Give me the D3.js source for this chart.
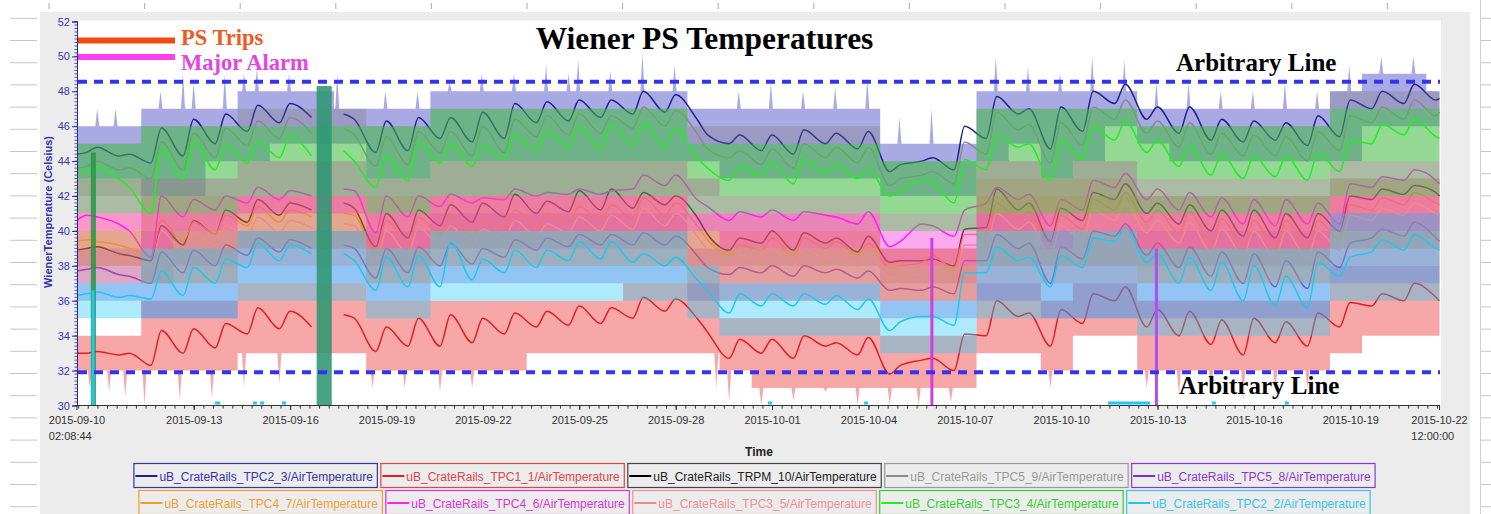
<!DOCTYPE html>
<html>
<head>
<meta charset="utf-8">
<script src="https://cdn.jsdelivr.net/npm/d3@7"></script>
<style>
body{margin:0;background:#fff;overflow:hidden}
svg{display:block}
</style>
</head>
<body>
<div id="chart"></div>
<script>
const w = 1491;
const h = 514;

// ---- data ----
const startTime = "2015-09-10T02:08:44Z";
const endTime = "2015-10-22T12:00:00Z";

// sample instants, in days after startTime (daily low, then daily high)
const sampleDays = [0,
 0.3,0.63, 1.3,1.63, 2.3,2.63, 3.3,3.63, 4.3,4.63, 5.3,5.63, 6.3,6.63, 7.3,7.63, 8.3,8.63, 9.3,9.63,
 10.3,10.63, 11.3,11.63, 12.3,12.63, 13.3,13.63, 14.3,14.63, 15.3,15.63, 16.3,16.63, 17.3,17.63, 18.3,18.63, 19.3,19.63,
 20.3,20.63, 21.3,21.63, 22.3,22.63, 23.3,23.63, 24.3,24.63, 25.3,25.63, 26.3,26.63, 27.3,27.63, 28.3,28.63, 29.3,29.63,
 30.3,30.63, 31.3,31.63, 32.3,32.63, 33.3,33.63, 34.3,34.63, 35.3,35.63, 36.3,36.63, 37.3,37.63, 38.3,38.63, 39.3,39.63,
 40.3,40.63, 41.3,41.63,
 42.3, 42.41];

const tpc2_3 = [44.4,
 44.5,44.8, 44.3,44.4, 43.9,45.9, 44.3,46.4, 45.0,46.7, 45.7,47.2, 46.2,47.3, 46.5,null, 46.7,46.4, 44.5,46.3,
 44.6,46.5, 45.3,46.5, 45.1,46.8, 45.3,47.3, 46.2,47.4, 46.3,47.5, 46.5,47.5, 46.7,48.0, 46.8,47.8, 46.4,45.5,
 45.0,45.5, 44.6,45.5, 44.4,45.8, 45.0,45.6, 44.7,45.7, 43.4,43.8, 44.0,44.2, 43.5,46.0, 45.3,47.7, 46.7,47.0,
 44.7,47.1, 45.7,48.0, 47.3,48.4, 46.4,47.1, 45.6,47.1, 45.2,46.4, 45.1,46.3, 45.2,46.2, 44.9,46.6, 45.4,47.5,
 47.0,48.0, 47.3,48.4,
 47.5, 47.6];
const tpc1_1 = [33.0,
 33.0,33.1, 32.9,33.0, 32.3,34.3, 33.0,34.4, 33.3,34.7, 34.1,35.6, 34.4,35.4, 34.5,null, 35.2,35.0, 33.1,34.5,
 33.4,35.0, 33.4,35.2, 33.6,35.0, 34.1,35.3, 34.5,35.4, 34.6,35.7, 34.7,35.6, 35.0,36.2, 35.4,36.1, 35.0,34.2,
 32.7,33.8, 33.0,33.8, 32.7,34.0, 33.4,33.6, 32.9,33.9, 31.8,32.3, 32.6,32.7, 32.0,34.1, 34.0,36.0, 35.1,35.3,
 33.4,35.5, 34.7,36.4, 36.0,36.8, 34.5,35.5, 34.0,35.4, 33.5,34.9, 32.9,35.0, 33.6,34.8, 33.4,35.3, 34.5,35.9,
 35.7,36.4, 36.0,37.0,
 36.2, 36.0];
const trpm_10 = [38.9,
 39.0,39.1, 38.7,38.6, 38.3,40.3, 39.2,40.6, 39.8,41.2, 40.5,41.8, 40.9,41.6, 41.2,null, 41.6,41.3, 39.1,41.0,
 39.6,41.2, 40.3,41.5, 40.5,41.6, 40.8,42.1, 41.0,41.7, 41.1,42.3, 41.2,42.4, 41.3,42.2, 41.5,42.0, 40.8,39.8,
 38.9,39.6, 39.3,40.0, 38.9,39.9, 39.3,39.6, 38.8,39.7, 38.2,38.3, 38.3,38.4, 38.0,40.1, 40.2,42.4, 41.2,41.6,
 39.4,41.3, 40.6,42.2, 41.8,42.7, 41.0,41.6, 40.4,41.5, 40.0,41.2, 39.7,41.2, 39.6,41.0, 39.6,41.0, 40.0,42.0,
 41.8,42.4, 42.1,42.6,
 42.2, 42.0];
const tpc5_9 = [43.6,
 43.7,44.0, 43.5,43.6, 43.0,45.1, 43.5,45.6, 44.2,45.9, 44.9,46.3, 45.3,46.5, 45.6,null, 45.9,45.5, 43.7,45.4,
 43.8,45.7, 44.5,45.7, 44.3,46.0, 44.5,46.4, 45.4,46.6, 45.5,46.7, 45.6,46.6, 45.9,47.1, 46.0,46.9, 45.6,44.7,
 44.2,44.6, 43.8,44.7, 43.6,45.0, 44.2,44.8, 43.9,44.8, 42.6,43.0, 43.2,43.4, 42.7,45.1, 44.4,46.8, 45.8,46.1,
 43.9,46.2, 44.9,47.1, 46.4,47.5, 45.6,46.3, 44.8,46.2, 44.4,45.6, 44.3,45.5, 44.3,45.4, 44.0,45.7, 44.6,46.6,
 46.2,47.1, 46.4,47.5,
 46.6, 46.8];
const tpc5_8 = [37.7,
 37.8,37.9, 37.5,37.4, 37.0,38.8, 37.6,38.9, 38.0,39.2, 38.6,39.6, 38.8,39.5, 39.0,null, 39.2,39.0, 37.3,39.0,
 37.6,39.1, 38.0,39.3, 38.1,39.0, 38.5,39.5, 38.9,39.6, 39.1,39.8, 39.2,39.8, 39.2,39.9, 39.2,39.7, 38.6,37.9,
 37.5,37.9, 37.6,38.0, 37.4,38.0, 37.6,37.8, 37.3,37.7, 36.6,36.7, 36.6,36.8, 36.4,38.3, 38.3,39.8, 39.0,39.3,
 37.0,39.1, 38.4,40.0, 39.7,40.4, 38.6,39.3, 37.9,39.1, 37.4,38.8, 37.0,38.7, 36.8,38.3, 36.7,38.8, 37.9,39.3,
 39.6,40.1, 39.7,40.5,
 39.6, 39.4];
const tpc4_7 = [39.4,
 39.5,39.4, 39.2,39.0, 38.6,40.6, 39.4,40.5, 39.8,40.9, 40.3,41.4, 40.5,41.2, 40.8,null, 41.0,40.9, 38.8,40.6,
 39.3,40.8, 39.8,40.9, 39.7,40.7, 40.1,41.2, 40.3,41.0, 40.5,41.4, 40.6,41.5, 40.7,41.9, 40.9,41.6, 40.3,39.5,
 38.6,39.2, 38.9,39.6, 38.6,39.6, 39.0,39.4, 38.6,39.3, 37.9,38.0, 38.2,38.6, 37.8,39.8, 39.8,41.6, 40.7,41.1,
 39.2,40.9, 40.1,41.8, 41.2,42.2, 40.5,41.2, 39.9,41.1, 39.4,40.7, 39.2,40.6, 39.0,40.6, 39.0,40.6, 39.5,41.5,
 41.2,41.9, 41.5,42.2,
 41.6, 41.5];
const tpc4_6 = [40.6,
 40.9,40.8, 40.4,40.0, 38.5,42.0, 40.8,41.8, 41.2,42.0, 41.6,42.5, 41.8,42.3, 42.0,null, 42.4,42.3, 39.9,42.0,
 40.8,42.0, 41.4,42.1, 41.6,41.9, 41.8,42.4, 42.0,42.2, 42.1,42.4, 42.1,42.3, 42.4,43.2, 42.6,43.2, 41.8,41.4,
 40.6,41.1, 40.8,41.2, 40.6,41.1, 40.9,40.8, 40.4,41.1, 39.1,39.4, 40.4,40.3, 39.7,41.2, 41.6,42.5, 41.8,42.1,
 40.3,41.8, 41.2,42.9, 42.5,43.3, 41.8,42.4, 41.2,42.2, 40.8,41.9, 40.4,41.8, 40.3,41.8, 40.4,41.6, 40.4,42.7,
 42.5,43.1, 42.9,43.5,
 42.9, 42.7];
const tpc3_5 = [38.8,
 38.9,38.9, 38.6,38.4, 38.0,40.0, 38.8,39.9, 39.2,40.3, 39.7,40.8, 39.9,40.6, 40.2,null, 40.4,40.3, 38.2,40.0,
 38.7,40.2, 39.2,40.3, 39.1,40.1, 39.5,40.6, 39.7,40.4, 39.9,40.8, 40.0,40.9, 40.1,41.3, 40.3,41.0, 39.7,38.9,
 38.0,38.6, 38.3,39.0, 38.0,39.0, 38.4,38.8, 38.0,38.7, 37.3,37.4, 37.6,38.0, 37.2,39.2, 39.2,41.0, 40.1,40.5,
 38.6,40.3, 39.5,41.2, 40.6,41.6, 39.9,40.6, 39.3,40.5, 38.8,40.1, 38.6,40.0, 38.4,40.0, 38.4,40.0, 38.9,40.9,
 40.6,41.3, 40.9,41.6,
 41.0, 40.9];
const tpc3_4 = [43.3,
 43.4,43.6, 43.0,42.5, 41.0,44.7, 43.0,45.1, 43.5,44.9, 43.9,45.1, 44.2,45.4, 44.3,null, 44.6,44.0, 42.5,44.3,
 42.9,45.1, 43.9,45.0, 43.7,44.9, 44.1,45.5, 44.6,45.7, 44.8,46.0, 44.7,46.1, 44.9,46.2, 44.8,45.9, 44.2,43.6,
 42.9,43.7, 43.2,43.9, 42.7,44.1, 43.3,43.8, 43.0,43.5, 42.0,42.3, 42.9,42.8, 41.6,44.1, 43.5,45.5, 44.8,45.0,
 42.9,45.2, 44.1,46.0, 45.2,46.3, 44.5,45.2, 43.7,44.9, 43.2,44.4, 43.0,44.3, 43.1,44.3, 42.9,44.5, 43.4,45.2,
 45.0,46.1, 45.5,46.4,
 45.4, 45.3];
const tpc2_2 = [36.3,
 36.4,36.5, 36.2,36.3, 36.1,37.7, 36.3,37.9, 37.0,38.4, 37.9,39.3, 38.3,39.2, 38.7,null, 38.7,38.3, 36.6,38.5,
 36.8,38.6, 36.8,39.4, 37.2,38.4, 37.6,38.9, 37.9,38.9, 38.3,39.4, 38.4,39.4, 38.2,38.7, 38.0,38.5, 37.2,36.6,
 35.3,36.4, 35.7,36.4, 35.7,36.4, 35.8,36.3, 35.5,36.1, 34.3,34.8, 35.1,35.1, 34.6,37.6, 37.6,39.1, 38.3,38.5,
 36.8,38.6, 37.9,39.6, 39.4,40.2, 38.2,38.7, 37.0,38.5, 36.6,38.2, 36.0,38.0, 35.7,37.4, 35.6,38.2, 37.4,38.5,
 38.8,39.5, 38.9,39.8,
 39.0, 38.9];

// min/max envelopes: [from day, min, max]
const tpc2_3Band = [[0,43,46],[2,42,47],[4,44,47],[5,44,48],[6,45,48],[8,45,47],[9,43,47],[11,44,48],[19,44,47],[20,43,47],[25,42,45],[28,44,48],[29,45,48],[30,43,48],[31,44,48],[32,46,48],[33,45,47],[34,44,47],[39,44,48],[40,46,49],[42,46,48]];
const tpc1_1Band = [[0,32,34],[2,32,36],[5,33,37],[9,32,36],[14,33,36],[17,33,37],[20,32,35],[21,31,35],[25,31,34],[28,33,37],[30,32,36],[31,34,37],[33,32,36],[39,33,38],[40,34,38]];
const trpm_10Band = [[0,38,40],[2,37,42],[3,38,42],[5,39,43],[9,38,42],[11,39,43],[19,38,41],[25,37,39],[28,38,43],[33,38,42],[39,39,43]];
const tpc5_9Band = [[0,42,45],[2,42,46],[5,43,47],[9,42,46],[11,43,47],[19,42,46],[25,41,44],[28,43,47],[33,43,46],[39,44,48]];
const tpc5_8Band = [[0,36,39],[2,35,40],[5,37,40],[9,36,40],[11,37,41],[19,36,39],[25,35,38],[28,36,41],[30,35,40],[33,35,40],[39,37,41]];
const tpc4_7Band = [[0,38,41],[2,37,42],[5,39,42],[9,37,42],[11,38,42],[19,37,41],[25,36,39],[28,38,43],[33,37,42],[39,39,43]];
const tpc4_6Band = [[0,40,43],[2,39,43],[3,40,43],[5,41,44],[9,39,43],[11,40,44],[19,40,43],[20,39,42],[25,38,41],[28,40,44],[30,39,43],[31,40,44],[33,39,43],[39,40,44]];
const tpc3_5Band = [[0,37,40],[2,37,41],[5,38,42],[9,37,41],[11,38,42],[19,36,40],[25,36,39],[28,37,42],[33,37,41],[39,38,42]];
const tpc3_4Band = [[0,41,45],[2,41,46],[5,42,46],[9,41,46],[11,42,47],[19,41,45],[25,40,44],[28,41,47],[33,41,46],[39,42,47]];
const tpc2_2Band = [[0,35,37],[2,35,39],[5,36,40],[9,35,39],[11,36,40],[19,35,38],[20,34,37],[25,33,36],[28,35,40],[33,34,39],[39,36,41]];

// short excursions of the envelopes: [day, extreme value]
const tpc2_3Spikes = [[0.63,47],[1.2,47],[2.6,48],[3.3,49],[3.63,48.5],[4.6,49],[5.2,49],[5.6,49.3],[6.6,49],[8.1,49],[9.6,48],[10.6,48],[11.6,48.5],[12.6,49],[13.6,49],[14.6,49.5],[15.3,49],[15.6,49.8],[16.6,49.2],[17.6,50.2],[18.6,49.5],[20.6,48],[21.6,48.5],[22.6,48],[23.6,48.2],[24.6,48.7],[25.6,46.5],[26.6,47],[28.6,50],[29.6,49.4],[30.6,49],[31.6,50],[32.6,49.8],[33.6,48.5],[34.6,48.5],[35.6,48],[36.6,48],[37.6,48.5],[38.6,48],[39.6,49.5],[40.6,50],[41.6,50]];
const tpc1_1Spikes = [[0.4,31],[1.0,30.8],[1.5,30.5],[2.1,30],[3.2,30.3],[4.2,30.4],[5.2,31],[6.3,31.2],[9.2,31],[10.2,31],[11.3,30.8],[12.3,31],[19.9,31],[20.3,30.2],[21.3,30],[22.3,30.3],[23.3,30.8],[24.3,30],[25.3,30],[26.2,30],[27.2,30.2],[30.3,31],[33.3,31],[34.3,30.6],[35.3,30.5],[36.3,30.2],[37.3,30.8],[38.3,31]];

const seriesNames = ["uB_CrateRails_TPC2_3/AirTemperature","uB_CrateRails_TPC1_1/AirTemperature","uB_CrateRails_TRPM_10/AirTemperature",
 "uB_CrateRails_TPC5_9/AirTemperature","uB_CrateRails_TPC5_8/AirTemperature","uB_CrateRails_TPC4_7/AirTemperature",
 "uB_CrateRails_TPC4_6/AirTemperature","uB_CrateRails_TPC3_5/AirTemperature","uB_CrateRails_TPC3_4/AirTemperature",
 "uB_CrateRails_TPC2_2/AirTemperature"];
const seriesValues = [tpc2_3, tpc1_1, trpm_10, tpc5_9, tpc5_8, tpc4_7, tpc4_6, tpc3_5, tpc3_4, tpc2_2];
const seriesBands = [tpc2_3Band, tpc1_1Band, trpm_10Band, tpc5_9Band, tpc5_8Band, tpc4_7Band, tpc4_6Band, tpc3_5Band, tpc3_4Band, tpc2_2Band];
const seriesSpikes = [tpc2_3Spikes, tpc1_1Spikes, [], [], [], [], [], [], [], []];

// readings that fell off the scale / dropouts
const glitchBlocks = [[0.43,0.59,30,44.5],[7.46,7.93,30,48.3]];
const alarmLines = [[0.5,30,36.6],[26.61,30,39.6],[33.6,30,39.0]];
const cyanDips = [[4.30,4.45],[5.48,5.60],[5.70,5.82],[6.38,6.51],[21.51,21.63],[24.50,24.62],[32.09,33.40],[35.33,35.45],[37.60,37.72]];

const limitLines = [48.55, 31.9];
const yTicks = [30,32,34,36,38,40,42,44,46,48,50,52];
const xTickLabels = ["2015-09-13","2015-09-16","2015-09-19","2015-09-22","2015-09-25","2015-09-28","2015-10-01","2015-10-04","2015-10-07","2015-10-10","2015-10-13","2015-10-16","2015-10-19"];
const xStartLabel = ["2015-09-10","02:08:44"];
const xEndLabel = ["2015-10-22","12:00:00"];

// ---- styles ----
const lineColors = ["#1e1e8c","#e02020","#000000","#8a8a8a","#7b2fd0","#f0a020","#ff20f0","#f08a8a","#20f020","#20c8f0"];
const bandColors = ["rgba(50,50,190,0.42)","rgba(235,45,45,0.42)","rgba(30,30,30,0.18)","rgba(120,120,120,0.3)","rgba(120,60,220,0.3)",
 "rgba(245,150,40,0.3)","rgba(250,50,220,0.42)","rgba(240,110,110,0.34)","rgba(40,220,40,0.38)","rgba(40,200,245,0.38)"];
const legendColors = ["#3535a8","#e04545","#222222","#999999","#8a3ad0","#f0a030","#d835d8","#f09090","#30d030","#35c5ea"];
const sans = "'Liberation Sans', Arial, sans-serif";
const serif = "'Liberation Serif', 'Times New Roman', serif";

//Create svg element
const svg = d3.select("#chart").append('svg')
 .attr('width', w).attr('height', h);

// page frame: ruler marks and grey panel
const rulerY = d3.range(18.3, h, 22.2);
svg.append('g').selectAll('line').data(rulerY).join('line')
 .attr('x1', 10).attr('x2', 37).attr('y1', d => d).attr('y2', d => d)
 .attr('stroke', '#c6c6c6');
svg.append('g').selectAll('line').data(rulerY).join('line')
 .attr('x1', 1481).attr('x2', 1491).attr('y1', d => d).attr('y2', d => d)
 .attr('stroke', '#c6c6c6');
svg.append('line').attr('x1', 1480.5).attr('x2', 1480.5).attr('y1', 0).attr('y2', h).attr('stroke', '#cfcfcf');
svg.append('g').selectAll('line').data(d3.range(49, 1470, 95.6)).join('line')
 .attr('x1', d => d).attr('x2', d => d).attr('y1', 3).attr('y2', 9)
 .attr('stroke', '#aaa');
svg.append('rect').attr('x', 40).attr('y', 12).attr('width', 1430).attr('height', h - 12).attr('fill', '#ececec');

//Scales
const t0 = d3.isoParse(startTime);
const t1 = d3.isoParse(endTime);
const dayMs = 864e5;
const toDate = d => new Date(+t0 + d * dayMs);
const xScale = d3.scaleUtc().domain([t0, t1]).range([77, 1439.5]);
const yScale = d3.scaleLinear().domain([30, 52]).range([405.5, 21.5]);
const xd = d => xScale(toDate(d));

// plot background
svg.append('rect').attr('x', 77).attr('y', 20.5).attr('width', 1364).attr('height', 385).attr('fill', '#fff');
svg.append('clipPath').attr('id', 'clip').append('rect')
 .attr('x', 77).attr('y', 20.5).attr('width', 1363).attr('height', 385);
const plot = svg.append('g').attr('clip-path', 'url(#clip)');

// bands + lines, in legend order
const area = d3.area().curve(d3.curveStepAfter)
 .x(d => xd(d[0])).y0(d => yScale(d[1])).y1(d => yScale(d[2]));
const line = d3.line()
 .defined(d => d[1] != null)
 .curve(d3.curveMonotoneX)
 .x(d => xd(d[0])).y(d => yScale(d[1]));
const lastDay = sampleDays[sampleDays.length - 1];

// value of the envelope edge nearest to a spike
function bandEdge(band, day, v) {
 let seg = band[0];
 band.forEach(s => { if (s[0] <= day) seg = s; });
 return v > seg[2] ? seg[2] : seg[1];
}

seriesValues.forEach((vals, i) => {
 const band = seriesBands[i];
 const last = band[band.length - 1];
 plot.append('path')
  .datum(band.concat([[lastDay, last[1], last[2]]]))
  .attr('d', area)
  .attr('fill', bandColors[i]);
 plot.append('g').selectAll('path').data(seriesSpikes[i]).join('path')
  .attr('d', d => {
   const base = yScale(bandEdge(band, d[0], d[1]));
   const cx = xd(d[0]);
   return `M${cx - 2},${base}L${cx},${yScale(d[1])}L${cx + 2},${base}Z`;
  })
  .attr('fill', bandColors[i]);
 plot.append('path')
  .datum(vals.map((v, k) => [sampleDays[k], v]))
  .attr('d', line)
  .attr('fill', 'none')
  .attr('stroke', lineColors[i])
  .attr('stroke-width', 1.5)
  .attr('stroke-linejoin', 'round');
});

// dropouts
plot.append('g').selectAll('rect').data(glitchBlocks).join('rect')
 .attr('x', d => xd(d[0])).attr('width', d => xd(d[1]) - xd(d[0]))
 .attr('y', d => yScale(d[3])).attr('height', d => yScale(d[2]) - yScale(d[3]))
 .attr('fill', (d, i) => i == 0 ? 'rgba(40,150,70,0.85)' : 'rgba(45,150,115,0.88)');
const alarmCol = ["#20c8f0", "#d040d8", "#b050f0"];
plot.append('g').selectAll('line').data(alarmLines).join('line')
 .attr('x1', d => xd(d[0])).attr('x2', d => xd(d[0]))
 .attr('y1', d => yScale(d[1])).attr('y2', d => yScale(d[2]))
 .attr('stroke', (d, i) => alarmCol[i]).attr('stroke-width', 3);
plot.append('g').selectAll('line').data(cyanDips).join('line')
 .attr('x1', d => xd(d[0])).attr('x2', d => xd(d[1]))
 .attr('y1', yScale(30.15)).attr('y2', yScale(30.15))
 .attr('stroke', '#20c8f0').attr('stroke-width', 3);

// arbitrary limit lines
svg.append('g').selectAll('line').data(limitLines).join('line')
 .attr('x1', 78).attr('x2', 1440)
 .attr('y1', d => yScale(d)).attr('y2', d => yScale(d))
 .attr('stroke', '#3434ee').attr('stroke-width', 4).attr('stroke-dasharray', '9,7');

// y axis
const yAxis = d3.axisLeft(yScale).tickValues(yTicks).tickSize(5).tickPadding(2);
const gy = svg.append('g').attr('transform', 'translate(77,0)').call(yAxis);
gy.select('.domain').attr('stroke', '#2a2a9a');
gy.selectAll('.tick line').attr('stroke', '#2a2a9a');
gy.selectAll('.tick text').attr('fill', '#3838b0').style('font', `11px ${sans}`);
svg.append('g').selectAll('line').data(d3.range(30, 52.01, 0.2)).join('line')
 .attr('x1', 74.5).attr('x2', 78).attr('y1', d => yScale(d)).attr('y2', d => yScale(d))
 .attr('stroke', '#2a2a9a').attr('stroke-width', 0.8);
svg.append('text')
 .attr('transform', `translate(52,212) rotate(-90)`)
 .attr('text-anchor', 'middle')
 .attr('fill', '#3333aa')
 .style('font', `bold 11px ${sans}`)
 .text('WienerTemperature (Celsius)');

// x axis
const tickHour = 17.74;
const majorDates = xTickLabels.map(s => new Date(+d3.isoParse(s + "T00:00:00Z") + tickHour * 36e5));
const minorDates = [];
for (let t = +majorDates[0]; t >= +t0; t -= 0.3 * dayMs) minorDates.push(new Date(t));
for (let t = +majorDates[0]; t <= +t1; t += 0.3 * dayMs) minorDates.push(new Date(t));
svg.append('line').attr('x1', 77).attr('x2', 1440).attr('y1', 405.5).attr('y2', 405.5).attr('stroke', '#333');
svg.append('g').selectAll('line').data(minorDates).join('line')
 .attr('x1', d => xScale(d)).attr('x2', d => xScale(d)).attr('y1', 405.5).attr('y2', 408.5)
 .attr('stroke', '#333');
svg.append('g').selectAll('line').data(majorDates.concat([t0, t1])).join('line')
 .attr('x1', d => xScale(d)).attr('x2', d => xScale(d)).attr('y1', 405.5).attr('y2', 410)
 .attr('stroke', '#333');
svg.append('g').selectAll('text').data(majorDates).join('text')
 .attr('x', d => xScale(d)).attr('y', 423.5)
 .attr('text-anchor', 'middle').attr('fill', '#333')
 .style('font', `11px ${sans}`)
 .text((d, i) => xTickLabels[i]);
[[t0, xStartLabel], [t1, xEndLabel]].forEach(([t, lab]) => {
 const first = svg.append('text').attr('x', xScale(t)).attr('y', 423.5)
  .attr('text-anchor', 'middle').attr('fill', '#333')
  .style('font', `11px ${sans}`).text(lab[0]);
 const bx = first.node().getBBox().x;
 svg.append('text').attr('x', bx).attr('y', 439.5).attr('fill', '#333')
  .style('font', `11px ${sans}`).text(lab[1]);
});
svg.append('text').attr('x', 759).attr('y', 455.5).attr('text-anchor', 'middle')
 .attr('fill', '#222').style('font', `bold 12px ${sans}`).text('Time');

// annotations
svg.append('text').attr('x', 704.5).attr('y', 48.5).attr('text-anchor', 'middle')
 .attr('fill', '#000').style('font', `bold 31.5px ${serif}`).text('Wiener PS Temperatures');
svg.append('rect').attr('x', 78).attr('y', 37.5).attr('width', 97).attr('height', 6).attr('fill', '#f04a10');
svg.append('rect').attr('x', 78).attr('y', 54).attr('width', 97).attr('height', 6).attr('fill', '#ff40f0');
svg.append('text').attr('x', 181).attr('y', 45).attr('fill', '#ef5a1e')
 .style('font', `bold 22.5px ${serif}`).text('PS Trips');
svg.append('text').attr('x', 181).attr('y', 70).attr('fill', '#e544e0')
 .style('font', `bold 22.5px ${serif}`).text('Major Alarm');
svg.append('text').attr('x', 1176).attr('y', 71).attr('fill', '#000')
 .style('font', `bold 25px ${serif}`).text('Arbitrary Line');
svg.append('text').attr('x', 1179).attr('y', 393.5).attr('fill', '#000')
 .style('font', `bold 25px ${serif}`).text('Arbitrary Line');

// legend: two rows of five boxes, centred
const legendRows = [[0, 1, 2, 3, 4], [5, 6, 7, 8, 9]];
const rowTop = [463, 490];
legendRows.forEach((row, r) => {
 const g = svg.append('g');
 const items = row.map(i => {
  const ig = g.append('g');
  const t = ig.append('text').attr('x', 26).attr('y', 17.5)
   .attr('fill', legendColors[i]).style('font', `12px ${sans}`).text(seriesNames[i]);
  const tw = t.node().getComputedTextLength();
  return {ig, i, bw: 26 + tw + 5};
 });
 const gap = 2.5;
 const total = d3.sum(items, d => d.bw) + gap * (items.length - 1);
 let xPos = 754.5 - total / 2;
 items.forEach(it => {
  it.ig.attr('transform', `translate(${xPos},${rowTop[r]})`);
  it.ig.insert('rect', 'text').attr('x', 0.5).attr('y', 0.5).attr('width', it.bw - 1).attr('height', 24)
   .attr('fill', 'none').attr('stroke', lineColors[it.i] == '#000000' ? '#444' : legendColors[it.i]).attr('stroke-width', 1.2);
  it.ig.append('line').attr('x1', 2).attr('x2', 24).attr('y1', 13).attr('y2', 13)
   .attr('stroke', lineColors[it.i]).attr('stroke-width', 2);
  xPos += it.bw + gap;
 });
});
</script>
</body>
</html>
